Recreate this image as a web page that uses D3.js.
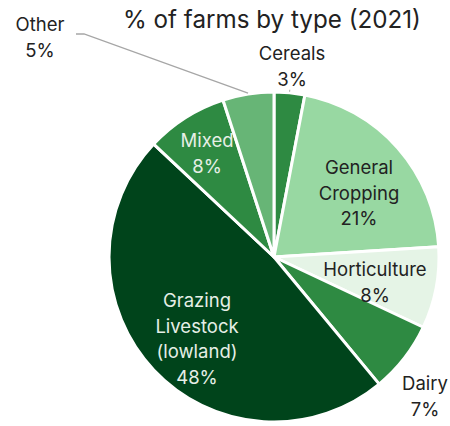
<!DOCTYPE html>
<html><head><meta charset="utf-8">
<script src="https://cdn.jsdelivr.net/npm/d3@7"></script>
<style>body{margin:0;background:#fff}svg{display:block}text{font-family:Inter,sans-serif}</style>
</head><body>
<svg id="c" width="450" height="426"></svg>
<script>
const categories = ["Cereals","General Cropping","Horticulture","Dairy","Grazing Livestock (lowland)","Mixed","Other"];
const values = [3,21,8,7,48,8,5];
const labelLines = [["Cereals","3%"],["General","Cropping","21%"],["Horticulture","8%"],["Dairy","7%"],["Grazing","Livestock","(lowland)","48%"],["Mixed","8%"],["Other","5%"]];
const colors = ["#2e8a42","#98d8a2","#e5f4e6","#2e8a42","#00441b","#2e8a42","#67b576"];
const textColors = ["#222","#222","#222","#222","#e6efe6","#e6efe6","#222"];
const title = "% of farms by type (2021)";

const svg = d3.select("#c");
const cx = 274, cy = 257, R = 165;
const g = svg.append("g").attr("transform", `translate(${cx},${cy})`);
const data = categories.map((c,i)=>({c, v: values[i], i}));
const pie = d3.pie().value(d=>d.v).sort(null);
const arcs = pie(data);
const arc = d3.arc().innerRadius(0).outerRadius(R);
g.selectAll("path").data(arcs).join("path")
  .attr("d", arc).attr("fill", d=>colors[d.data.i])
  .attr("stroke","#fff").attr("stroke-width",3).attr("stroke-linejoin","round");

svg.append("text").attr("x", 272).attr("y", 28).attr("text-anchor","middle")
  .attr("font-size", 24.2).attr("fill","#222").text(title);

const labelPos = [[292,54],[359,168],[375,270],[425,384],[197,301],[207,141],[40,25]];
const lh = 25.5;
arcs.forEach((a)=>{
  const i = a.data.i;
  const t = svg.append("text").attr("text-anchor","middle").attr("font-size",18.5)
    .attr("fill", textColors[i]);
  labelLines[i].forEach((ln,j)=>{
    t.append("tspan").attr("x", labelPos[i][0]).attr("y", labelPos[i][1] + j*lh).attr("dy","0.35em").text(ln);
  });
});
const oa = arcs[6];
const mid = (oa.startAngle+oa.endAngle)/2;
const ex = cx + Math.sin(mid)*(R+1), ey = cy - Math.cos(mid)*(R+1);
svg.append("path").attr("d", `M76,34 L84,34 L${ex},${ey}`).attr("fill","none")
  .attr("stroke","#a6a6a6").attr("stroke-width",1.3);
const ca = arcs[0];
const cm = (ca.startAngle+ca.endAngle)/2;
svg.append("path").attr("d", `M${cx+Math.sin(cm)*(R+3)},${cy-Math.cos(cm)*(R+3)} L${cx+Math.sin(cm)*(R+1)},${cy-Math.cos(cm)*(R+1)}`)
  .attr("stroke","#a6a6a6").attr("stroke-width",1);
</script>
</body></html>
